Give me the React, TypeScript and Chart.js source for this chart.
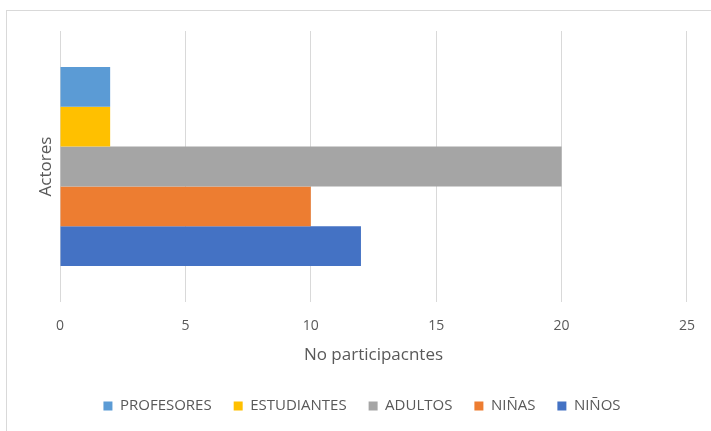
import React, { useEffect, useRef } from "react";
import { Chart, registerables } from "chart.js";

Chart.register(...registerables);

const categories = [""];
const seriesNames = ["PROFESORES", "ESTUDIANTES", "ADULTOS", "NIÑAS", "NIÑOS"];
const seriesValues = [2, 2, 20, 10, 12];
const seriesColors = ["#5B9BD5", "#FFC000", "#A5A5A5", "#ED7D31", "#4472C4"];
const xTicks = [0, 5, 10, 15, 20, 25];
const xTitle = "No participacntes";
const yTitle = "Actores";

const FONT = "'Open Sans', sans-serif";
const TEXT = "#595959";

const borderPlugin = {
  id: "frame",
  beforeDraw(chart: any) {
    const ctx = chart.ctx;
    ctx.save();
    ctx.fillStyle = "#ffffff";
    ctx.fillRect(0, 0, chart.width, chart.height);
    ctx.strokeStyle = "#d9d9d9";
    ctx.lineWidth = 1;
    ctx.strokeRect(6.5, 10.5, chart.width + 20, chart.height + 20);
    ctx.restore();
  },
};

export default function App() {
  const ref = useRef<HTMLCanvasElement | null>(null);
  useEffect(() => {
    if (!ref.current) return;
    const chart = new Chart(ref.current, {
      type: "bar",
      data: {
        labels: categories,
        datasets: seriesNames.map((name, i) => ({
          label: name,
          data: [seriesValues[i]],
          backgroundColor: seriesColors[i],
          borderWidth: 0,
          categoryPercentage: 0.735,
          barPercentage: 1,
        })),
      },
      options: {
        indexAxis: "y",
        animation: false,
        responsive: false,
        layout: { padding: { left: 36, right: 23, top: 31, bottom: 7.5 } },
        plugins: {
          tooltip: { enabled: false },
          legend: {
            position: "bottom",
            labels: {
              boxWidth: 9,
              boxHeight: 9,
              padding: 22,
              color: TEXT,
              font: { family: FONT, size: 15 },
            },
          },
        },
        scales: {
          x: {
            min: 0,
            max: 25,
            afterBuildTicks: (scale: any) => {
              scale.ticks = xTicks.map((v) => ({ value: v }));
            },
            afterFit: (scale: any) => {
              scale.height = 74.5;
            },
            grid: { color: "#d9d9d9", drawTicks: false },
            border: { display: false },
            ticks: {
              padding: 16,
              color: TEXT,
              font: { family: FONT, size: 14 },
            },
            title: {
              display: true,
              text: xTitle,
              color: TEXT,
              font: { family: FONT, size: 17 },
              padding: { top: 0, bottom: 11.3 },
            },
          },
          y: {
            grid: { display: false },
            border: { display: false },
            ticks: { display: false },
            afterFit: (scale: any) => {
              scale.width = 24;
            },
            title: {
              display: true,
              text: yTitle,
              color: TEXT,
              font: { family: FONT, size: 17 },
              padding: { top: 0, bottom: 0 },
            },
          },
        },
      },
      plugins: [borderPlugin],
    } as any);
    return () => chart.destroy();
  }, []);
  return (
    <div style={{ position: "absolute", left: 0, top: 0, width: 711, height: 431 }}>
      <canvas ref={ref} width={711} height={431} style={{ width: 711, height: 431 }} />
    </div>
  );
}
